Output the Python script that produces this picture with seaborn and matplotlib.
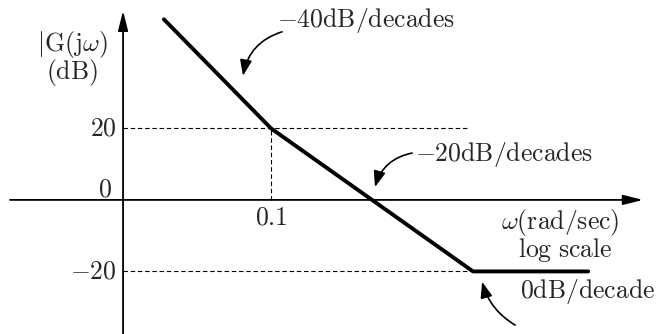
import numpy as np
import pandas as pd
import matplotlib
matplotlib.use("Agg")
import matplotlib.pyplot as plt
import seaborn as sns

# ---- data (asymptotic Bode magnitude sketch) ----
omega = [0.0087, 0.1, 1.0, 10.0, 138.0]      # rad/sec (log scale)
mag_db = [50.5, 20.0, 0.0, -20.0, -20.0]      # dB
ytick_vals = [20, 0, -20]
ytick_labels = [r"$20$", r"$0$", r"$-20$"]
xtick_vals = [0.1]
xtick_labels = [r"$0.1$"]
slope_labels = [r"$-40\mathrm{dB/decades}$", r"$-20\mathrm{dB/decades}$",
                r"$0\mathrm{dB/decade}$"]

sns.set_theme(style="white")
plt.rcParams["mathtext.fontset"] = "cm"
plt.rcParams["font.family"] = ["DejaVu Serif", "DejaVu Sans"]

fig = plt.figure(figsize=(6.6, 3.34), dpi=100)
ax = fig.add_axes([0, 0, 1, 1])
ax.set_xscale("log")
ax.set_xlim(2.075e-4, 709.6)
ax.set_ylim(-37.5, 55.9)
ax.axis("off")

df = pd.DataFrame({"omega": omega, "mag": mag_db})
sns.lineplot(data=df, x="omega", y="mag", ax=ax, color="black", lw=2.8,
             sort=False, estimator=None)

FS = 18.5
yaxis_x = 0.00343
# axes with arrows
ax.annotate("", xy=(482, 0), xytext=(0.000261, 0),
            arrowprops=dict(arrowstyle="-|>,head_length=1.0,head_width=0.25",
                            color="black", lw=1.3, shrinkA=0, shrinkB=0))
ax.annotate("", xy=(yaxis_x, 52.9), xytext=(yaxis_x, -40),
            arrowprops=dict(arrowstyle="-|>,head_length=1.0,head_width=0.25",
                            color="black", lw=1.3, shrinkA=0, shrinkB=0))

# dashed guide lines
dash = dict(color="black", lw=0.8, ls=(0, (4, 2.5)))
ax.plot([yaxis_x, 8.7], [ytick_vals[0]] * 2, **dash)
ax.plot([yaxis_x, omega[3]], [ytick_vals[2]] * 2, **dash)
ax.plot([xtick_vals[0]] * 2, [0, ytick_vals[0]], **dash)

# tick labels
ax.text(0.002985, 20, ytick_labels[0], ha="right", va="center", fontsize=FS)
ax.text(0.002667, 3.1, ytick_labels[1], ha="right", va="center", fontsize=FS)
ax.text(0.002985, -20, ytick_labels[2], ha="right", va="center", fontsize=FS)
ax.text(xtick_vals[0], -4.75, xtick_labels[0], ha="center", va="center", fontsize=FS)

# axis labels
ax.text(0.00107, 43.4, r"$|\mathrm{G}(\mathrm{j}\omega)$", ha="center", va="center", fontsize=FS)
ax.text(0.00107, 35.5, r"$(\mathrm{dB})$", ha="center", va="center", fontsize=FS)
ax.text(72.6, -6.2, r"$\omega(\mathrm{rad/sec})$", ha="center", va="center", fontsize=FS)
ax.text(81.5, -14.0, r"$\mathrm{log\ scale}$", ha="center", va="center", fontsize=FS)

# slope annotations
ax.text(0.1146, 50.3, slope_labels[0], ha="left", va="center", fontsize=FS)
ax.text(2.67, 12.6, slope_labels[1], ha="left", va="center", fontsize=FS)
ax.text(29.2, -25.7, slope_labels[2], ha="left", va="center", fontsize=FS)

arr = dict(arrowstyle="-|>,head_length=0.8,head_width=0.3", color="black",
           lw=1.2, shrinkA=0, shrinkB=0)
ax.annotate("", xy=(0.0528, 34.7), xytext=(0.1285, 47.0),
            arrowprops=dict(connectionstyle="arc3,rad=0.3", **arr))
ax.annotate("", xy=(1.07, 3.6), xytext=(2.49, 13.1),
            arrowprops=dict(connectionstyle="arc3,rad=0.3", **arr))
ax.annotate("", xy=(12.3, -22.9), xytext=(26.1, -35.0),
            arrowprops=dict(connectionstyle="arc3,rad=-0.2", **arr))

fig.savefig("out.png", dpi=100, facecolor="white")
